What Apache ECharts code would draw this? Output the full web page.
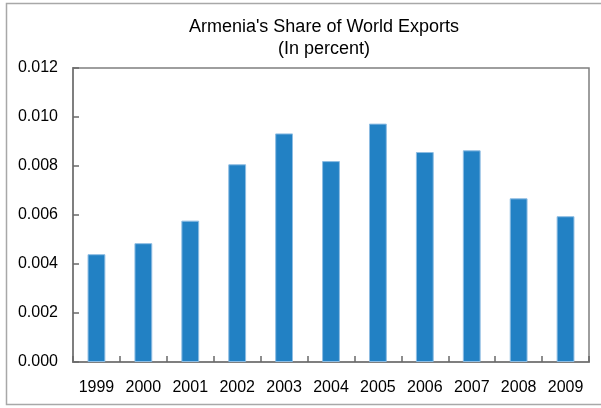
<!DOCTYPE html>
<html>
<head>
<meta charset="utf-8">
<script src="https://cdn.jsdelivr.net/npm/echarts@6/dist/echarts.min.js"></script>
<style>
  html, body { margin: 0; padding: 0; background: #fff; }
  #chart { width: 601px; height: 408px; }
</style>
</head>
<body>
<div id="chart"></div>
<script>
// Armenia's share of world exports, percent, 1999-2009
const years = ['1999', '2000', '2001', '2002', '2003', '2004', '2005', '2006', '2007', '2008', '2009'];
const shares = [0.0044, 0.00485, 0.00577, 0.00807, 0.00933, 0.0082, 0.00973, 0.00857, 0.00864, 0.00668, 0.00595];
const titleLines = ["Armenia's Share of World Exports", '(In percent)'];

const chart = echarts.init(document.getElementById('chart'), null, { renderer: 'canvas' });
const font = 'Liberation Sans, Arial, sans-serif';

chart.setOption({
  animation: false,
  title: {
    text: titleLines.join('\n'),
    left: 319,
    top: 11,
    textAlign: 'center',
    textStyle: { fontFamily: font, fontSize: 18, fontWeight: 'normal', color: '#000', lineHeight: 22 }
  },
  graphic: [{
    type: 'rect',
    shape: { x: 6.5, y: 3.5, width: 620, height: 401 },
    style: { fill: 'none', stroke: '#a8a8a8', lineWidth: 1.5 },
    silent: true
  }],
  grid: {
    left: 73, right: 12, top: 68, bottom: 46,
    show: true, borderColor: '#7f7f7f', borderWidth: 1.5, backgroundColor: 'transparent'
  },
  xAxis: {
    type: 'category',
    data: years,
    axisLine: { lineStyle: { color: '#7f7f7f', width: 2 } },
    axisTick: { show: true, inside: true, length: 6, lineStyle: { color: '#6a6a6a', width: 1.5 } },
    axisLabel: { fontFamily: font, fontSize: 16, color: '#000', margin: 18 }
  },
  yAxis: {
    type: 'value',
    min: 0, max: 0.012, interval: 0.002,
    splitLine: { show: false },
    axisLine: { show: true, lineStyle: { color: '#7f7f7f', width: 2 } },
    axisTick: { show: true, inside: true, length: 6, lineStyle: { color: '#6a6a6a', width: 1.5 } },
    axisLabel: {
      fontFamily: font, fontSize: 16, color: '#000', margin: 15,
      formatter: v => v.toFixed(3)
    }
  },
  series: [{
    type: 'bar',
    data: shares,
    barWidth: '38%',
    itemStyle: { color: '#2281c4', borderColor: '#8ebde3', borderWidth: 1 }
  }]
});
</script>
</body>
</html>
